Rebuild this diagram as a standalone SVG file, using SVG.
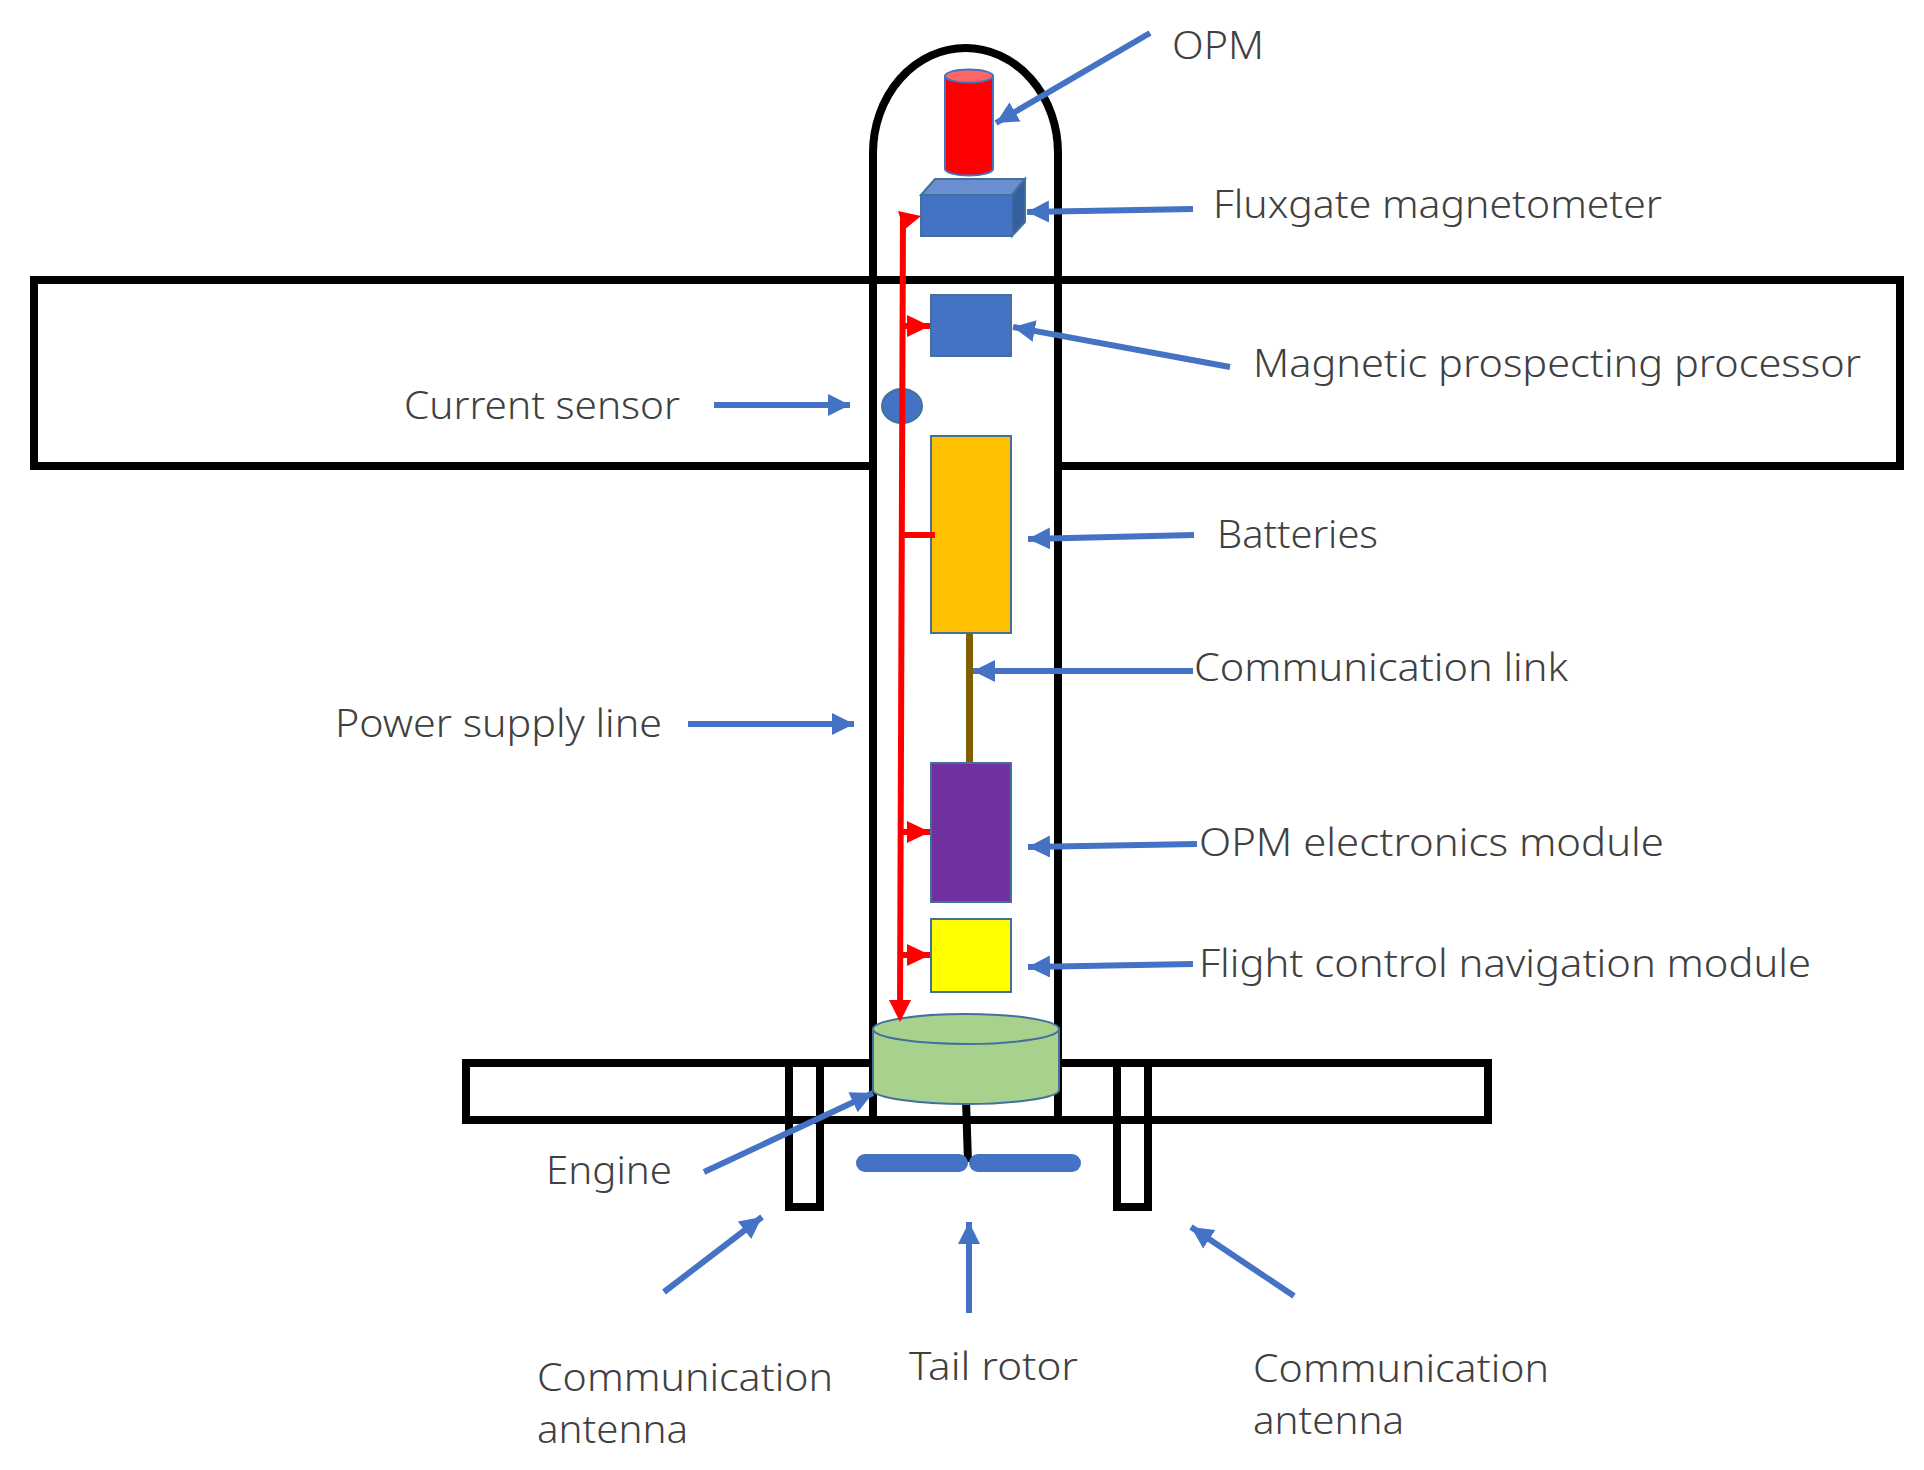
<svg xmlns="http://www.w3.org/2000/svg" width="1924" height="1470" viewBox="0 0 1924 1470">
<defs>
<marker id="bh" markerUnits="userSpaceOnUse" markerWidth="24" markerHeight="24" refX="22" refY="12" orient="auto"><path d="M0,1 L22,12 L0,23 Z" fill="#4472c4"/></marker>
<marker id="rh" markerUnits="userSpaceOnUse" markerWidth="24" markerHeight="24" refX="23" refY="12" orient="auto"><path d="M0,1 L23,12 L0,23 Z" fill="#ff0000"/></marker>
</defs>
<style>
.s{fill:none;stroke:#000;stroke-width:8}
.w{fill:#fff;stroke:#000;stroke-width:8}
.b{fill:none;stroke:#4472c4;stroke-width:6;marker-end:url(#bh)}
.r{fill:none;stroke:#ff0000;stroke-width:6}
.o{stroke:#41719c;stroke-width:2}
text{font-family:"Noto Sans","Liberation Sans",sans-serif;font-size:38px;fill:#404040;font-weight:300}
</style>
<rect width="1924" height="1470" fill="#fff"/>
<g id="tail-boom"><rect class="w" x="466" y="1063" width="1022" height="57"/></g>
<g id="wing"><rect class="w" x="34" y="280" width="1866" height="186"/></g>
<g id="left-antenna"><path class="s" d="M789,1063 V1207 H820 V1063"/></g>
<g id="right-antenna"><path class="s" d="M1117,1063 V1207 H1148 V1063"/></g>
<g id="fuselage">
<path d="M873,1120 V153 A92.5,105 0 0 1 1058,153 V1120 Z" fill="#fff" stroke="none"/>
<path class="s" d="M873,1120 V153 A92.5,105 0 0 1 1058,153 V1120"/>
<path class="s" d="M869,280 H1062 M869,1120 H1062"/>
</g>
<g id="opm">
<path d="M945,76 V169 A24,6.5 0 0 0 993,169 V76 Z" fill="#ff0000" stroke="#4472c4" stroke-width="2"/>
<ellipse cx="969" cy="76" rx="24" ry="6.5" fill="#ff6666" stroke="#4472c4" stroke-width="2"/>
</g>
<g id="fluxgate">
<path d="M921,195 L935,179 H1025 L1012,195 Z" fill="#6a8ed0" class="o"/>
<path d="M1012,195 L1025,179 V222 L1012,236 Z" fill="#365f9f" class="o"/>
<rect x="921" y="195" width="91" height="41" fill="#4472c4" class="o"/>
</g>
<g id="processor"><rect x="931" y="295" width="80" height="61" fill="#4472c4" class="o"/></g>
<g id="current-sensor"><ellipse cx="902" cy="406" rx="20" ry="17" fill="#4472c4" class="o"/></g>
<g id="comm-link"><rect x="966" y="633" width="7" height="130" fill="#7f6000"/></g>
<g id="batteries"><rect x="931" y="436" width="80" height="197" fill="#ffc000" class="o"/></g>
<g id="opm-electronics"><rect x="931" y="763" width="80" height="139" fill="#7030a0" class="o"/></g>
<g id="flight-control"><rect x="931" y="919" width="80" height="73" fill="#ffff00" class="o"/></g>
<g id="tail-rotor">
<path d="M966,1100 L968,1162" stroke="#000" stroke-width="8" fill="none"/>
<rect x="856" y="1154" width="112" height="18" rx="9" fill="#4472c4"/>
<rect x="969" y="1154" width="112" height="18" rx="9" fill="#4472c4"/>
</g>
<g id="engine">
<path d="M873,1029 V1090 C873,1098 920,1104 966,1104 C1012,1104 1059,1098 1059,1090 V1029 Z" fill="#a9d18e" stroke="#41719c" stroke-width="2"/>
<ellipse cx="966" cy="1029" rx="93" ry="15" fill="#a9d18e" stroke="#41719c" stroke-width="2"/>
</g>
<g id="connectors">
<path class="r" d="M903,214 L900,1010"/>
<path d="M898,211 L921,216 L904,230 Z" fill="#ff0000"/>
<path d="M889,1000 H911 L900,1022 Z" fill="#ff0000"/>
<path class="r" d="M901,326 H930" marker-end="url(#rh)"/>
<path class="r" d="M901,535 H935"/>
<path class="r" d="M901,832 H930" marker-end="url(#rh)"/>
<path class="r" d="M901,955 H930" marker-end="url(#rh)"/>
<path class="b" d="M1150,33 L996,123"/>
<path class="b" d="M1193,209 L1027,212"/>
<path class="b" d="M1230,367 L1013,327"/>
<path class="b" d="M714,405 H850"/>
<path class="b" d="M1194,535 L1028,539"/>
<path class="b" d="M1193,671 H973"/>
<path class="b" d="M1197,844 L1028,847"/>
<path class="b" d="M1193,964 L1028,967"/>
<path class="b" d="M688,724 H854"/>
<path class="b" d="M704,1172 L873,1093"/>
<path class="b" d="M664,1292 L762,1217"/>
<path class="b" d="M969,1313 V1222"/>
<path class="b" d="M1294,1296 L1191,1227"/>
</g>
<g id="labels">
<text x="1172" y="59" textLength="92" lengthAdjust="spacingAndGlyphs">OPM</text>
<text x="1213" y="218" textLength="449" lengthAdjust="spacingAndGlyphs">Fluxgate magnetometer</text>
<text x="1253" y="377" textLength="608" lengthAdjust="spacingAndGlyphs">Magnetic prospecting processor</text>
<text x="404" y="419" textLength="276" lengthAdjust="spacingAndGlyphs">Current sensor</text>
<text x="1217" y="548" textLength="161" lengthAdjust="spacingAndGlyphs">Batteries</text>
<text x="1194" y="681" textLength="374" lengthAdjust="spacingAndGlyphs">Communication link</text>
<text x="1199" y="856" textLength="465" lengthAdjust="spacingAndGlyphs">OPM electronics module</text>
<text x="1199" y="977" textLength="612" lengthAdjust="spacingAndGlyphs">Flight control navigation module</text>
<text x="335" y="737" textLength="327" lengthAdjust="spacingAndGlyphs">Power supply line</text>
<text x="546" y="1184" textLength="126" lengthAdjust="spacingAndGlyphs">Engine</text>
<text x="537" y="1391" textLength="296" lengthAdjust="spacingAndGlyphs">Communication</text>
<text x="537" y="1443" textLength="151" lengthAdjust="spacingAndGlyphs">antenna</text>
<text x="909" y="1380" textLength="169" lengthAdjust="spacingAndGlyphs">Tail rotor</text>
<text x="1253" y="1382" textLength="296" lengthAdjust="spacingAndGlyphs">Communication</text>
<text x="1253" y="1434" textLength="151" lengthAdjust="spacingAndGlyphs">antenna</text>
</g>
</svg>
